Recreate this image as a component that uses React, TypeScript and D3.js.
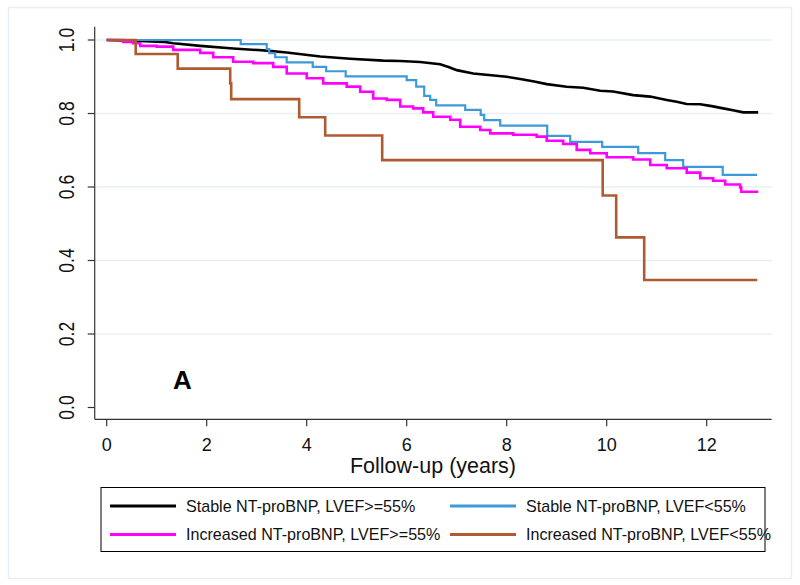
import React from "react";
import * as d3 from "d3";

// Kaplan–Meier survival estimates: [time (years), survival]
const stableHigh: [number, number][] = [
  [0, 1.0], [0.53, 0.998], [1.13, 0.995], [1.33, 0.991], [1.87, 0.984], [2.53, 0.977],
  [3.2, 0.971], [3.6, 0.966], [4.27, 0.955], [4.87, 0.949], [5.53, 0.944], [5.87, 0.943],
  [6.27, 0.94], [6.67, 0.934], [6.85, 0.926], [7.0, 0.918], [7.33, 0.909], [8.0, 0.9],
  [8.27, 0.894], [8.55, 0.887], [8.8, 0.88], [9.2, 0.873], [9.53, 0.87], [9.87, 0.862],
  [10.13, 0.86], [10.53, 0.85], [10.87, 0.846], [11.2, 0.837], [11.4, 0.832], [11.6, 0.826],
  [11.87, 0.825], [12.1, 0.82], [12.33, 0.814], [12.55, 0.808], [12.73, 0.803], [13.03, 0.803],
];
const stableLow: [number, number][] = [
  [0, 1.0], [2.68, 0.989], [3.2, 0.975], [3.25, 0.964], [3.37, 0.953], [3.6, 0.939],
  [4.12, 0.927], [4.39, 0.915], [4.78, 0.901], [6.0, 0.891], [6.19, 0.873], [6.35, 0.848],
  [6.47, 0.837], [6.59, 0.822], [7.17, 0.81], [7.48, 0.796], [7.55, 0.782], [7.87, 0.767],
  [8.81, 0.739], [9.27, 0.723], [9.91, 0.709], [10.63, 0.692], [11.17, 0.673], [11.53, 0.655],
  [12.32, 0.633], [13.01, 0.633],
];
const increasedHigh: [number, number][] = [
  [0, 1.0], [0.33, 0.995], [0.53, 0.991], [0.67, 0.984], [1.0, 0.982], [1.33, 0.973],
  [1.87, 0.965], [2.13, 0.953], [2.53, 0.941], [2.93, 0.937], [3.33, 0.927], [3.6, 0.909],
  [4.0, 0.896], [4.33, 0.882], [4.8, 0.873], [5.07, 0.859], [5.33, 0.841], [5.6, 0.837],
  [5.87, 0.819], [6.13, 0.814], [6.33, 0.803], [6.53, 0.791], [6.87, 0.783], [7.07, 0.764],
  [7.47, 0.755], [7.67, 0.746], [8.13, 0.742], [8.6, 0.737], [8.8, 0.726], [9.13, 0.717],
  [9.4, 0.701], [9.67, 0.692], [10.0, 0.681], [10.53, 0.675], [10.87, 0.66], [11.2, 0.651],
  [11.6, 0.639], [11.87, 0.624], [12.13, 0.617], [12.37, 0.607], [12.67, 0.599], [12.69, 0.587],
  [13.03, 0.587],
];
const increasedLow: [number, number][] = [
  [0, 1.0], [0.58, 0.962], [1.42, 0.922], [2.47, 0.882], [2.49, 0.839], [3.85, 0.79],
  [4.37, 0.74], [5.51, 0.673], [9.92, 0.577], [10.19, 0.463], [10.75, 0.347], [13.01, 0.347],
];

const seriesNames = [
  "Stable NT-proBNP, LVEF>=55%",
  "Stable NT-proBNP, LVEF<55%",
  "Increased NT-proBNP, LVEF>=55%",
  "Increased NT-proBNP, LVEF<55%",
];
const seriesColors = ["#000000", "#3d9ad9", "#ff00ff", "#b05a32"];
const seriesData = [stableHigh, stableLow, increasedHigh, increasedLow];

const xTicks = [0, 2, 4, 6, 8, 10, 12];
const yTicks = [0, 0.2, 0.4, 0.6, 0.8, 1.0];
const gridTicks = [0.2, 0.4, 0.6, 0.8, 1.0];
const xTitle = "Follow-up (years)";
const panelLabel = "A";

const FONT = "'Liberation Sans', Arial, Helvetica, sans-serif";

export default function App() {
  const x = d3.scaleLinear().domain([0, 13]).range([106.7, 756.7]);
  const y = d3.scaleLinear().domain([0, 1]).range([407.5, 40]);
  const stepLine = d3
    .line<[number, number]>()
    .x((d) => x(d[0]))
    .y((d) => y(d[1]))
    .curve(d3.curveStepAfter);
  const smoothLine = d3
    .line<[number, number]>()
    .x((d) => x(d[0]))
    .y((d) => y(d[1]))
    .curve(d3.curveLinear);

  const axisLeft = 94.7;
  const axisBottom = 419.3;
  const axisRight = 771.7;
  const axisTop = 26.7;

  const legendRows = [
    { i: 0, lx: 110, ty: 506 },
    { i: 1, lx: 450, ty: 506 },
    { i: 2, lx: 110, ty: 534.5 },
    { i: 3, lx: 450, ty: 534.5 },
  ];

  return (
    <svg
      width={800}
      height={585}
      style={{ position: "absolute", left: 0, top: 0, background: "#fff" }}
      fontFamily={FONT}
    >
      <rect x={0} y={0} width={800} height={585} fill="#ffffff" />
      <rect x={8.5} y={7.5} width={783} height={571} fill="none" stroke="#e6eef2" strokeWidth={1.5} />

      {/* gridlines */}
      {gridTicks.map((t) => (
        <line key={t} x1={axisLeft} x2={axisRight} y1={y(t)} y2={y(t)} stroke="#e7f0f3" strokeWidth={1.5} />
      ))}

      {/* axes */}
      <line x1={axisLeft} x2={axisLeft} y1={axisTop} y2={axisBottom} stroke="#333" strokeWidth={1.2} />
      <line x1={axisLeft} x2={axisRight} y1={axisBottom} y2={axisBottom} stroke="#333" strokeWidth={1.2} />
      {yTicks.map((t) => (
        <g key={t}>
          <line x1={axisLeft - 7} x2={axisLeft} y1={y(t)} y2={y(t)} stroke="#333" strokeWidth={1.2} />
          <text
            transform={`translate(74,${y(t)}) rotate(-90) scale(1,1.25)`}
            textAnchor="middle"
            fontSize={17.5}
            fill="#111"
          >
            {t.toFixed(1)}
          </text>
        </g>
      ))}
      {xTicks.map((t) => (
        <g key={t}>
          <line x1={x(t)} x2={x(t)} y1={axisBottom} y2={axisBottom + 7} stroke="#333" strokeWidth={1.2} />
          <text x={x(t)} y={450.5} textAnchor="middle" fontSize={18} fill="#111">
            {t}
          </text>
        </g>
      ))}
      <text x={433} y={472.5} textAnchor="middle" fontSize={21.5} fill="#111">
        {xTitle}
      </text>

      {/* survival curves */}
      {seriesData.map((d, i) => (
        <path
          key={i}
          d={(i === 0 ? smoothLine(d) : stepLine(d)) || ""}
          fill="none"
          stroke={seriesColors[i]}
          strokeWidth={i === 1 ? 2.2 : 2.6}
          strokeLinejoin="miter"
        />
      ))}

      <text x={182.5} y={389} textAnchor="middle" fontSize={26} fontWeight="bold" fill="#000">
        {panelLabel}
      </text>

      {/* legend */}
      <rect x={101} y={487.5} width={664} height={64} fill="#fff" stroke="#000" strokeWidth={1} />
      {legendRows.map((r) => (
        <g key={r.i}>
          <line x1={r.lx} x2={r.lx + 66} y1={r.ty} y2={r.ty} stroke={seriesColors[r.i]} strokeWidth={3} />
          <text x={r.lx + 76} y={r.ty + 5.5} fontSize={16.1} fill="#111">
            {seriesNames[r.i]}
          </text>
        </g>
      ))}
    </svg>
  );
}
